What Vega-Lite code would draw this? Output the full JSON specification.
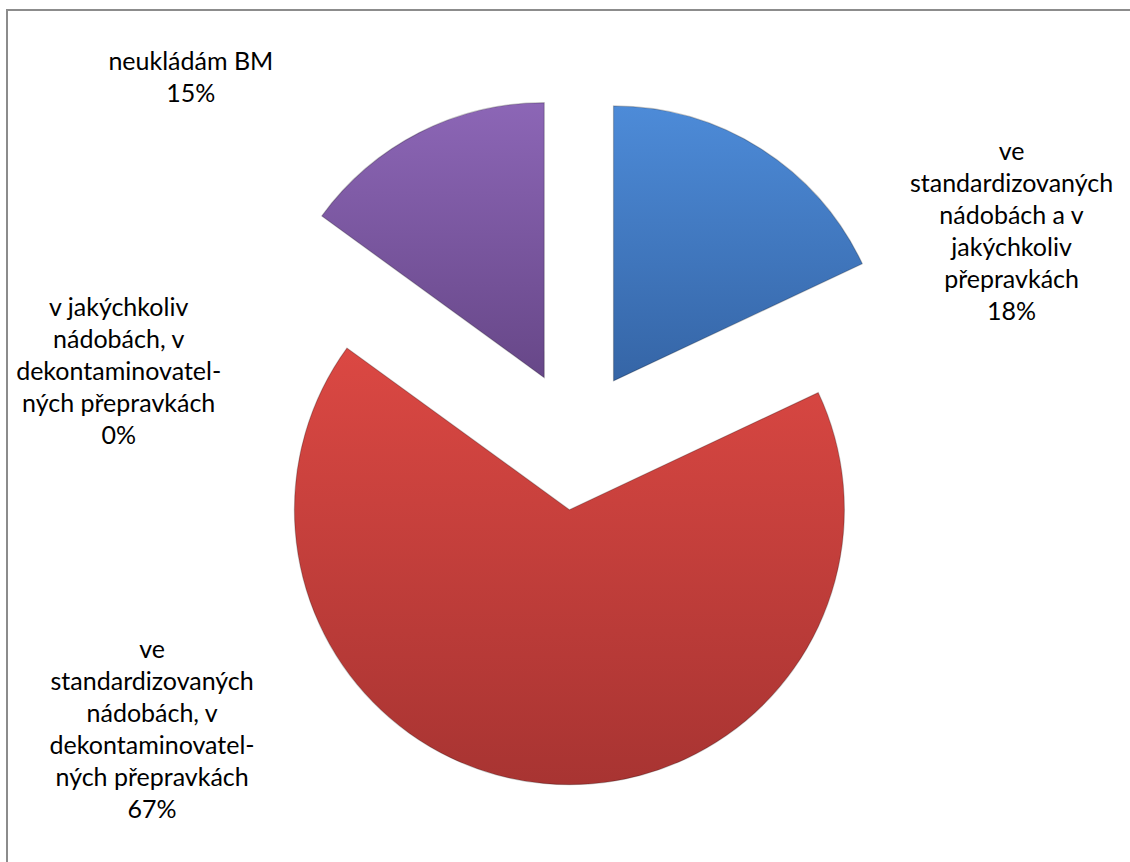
{
  "$schema": "https://vega.github.io/schema/vega-lite/v6.json",
  "width": 1138,
  "height": 860,
  "autosize": {"type": "none"},
  "padding": {"left": 7, "top": 10, "right": -15, "bottom": -8},
  "background": "white",
  "view": {"stroke": "#8c8c8c", "strokeWidth": 2, "fill": "white"},
  "data": {
    "values": [
      {"poradi": 1, "kategorie": "ve standardizovaných nádobách a v jakýchkoliv přepravkách", "podil": 18, "popisek": "ve\nstandardizovaných\nnádobách a v\njakýchkoliv\npřepravkách\n18%"},
      {"poradi": 2, "kategorie": "ve standardizovaných nádobách, v dekontaminovatel-ných přepravkách", "podil": 67, "popisek": "ve\nstandardizovaných\nnádobách, v\ndekontaminovatel-\nných přepravkách\n67%"},
      {"poradi": 3, "kategorie": "v jakýchkoliv nádobách, v dekontaminovatel-ných přepravkách", "podil": 0, "popisek": "v jakýchkoliv\nnádobách, v\ndekontaminovatel-\nných přepravkách\n0%"},
      {"poradi": 4, "kategorie": "neukládám BM", "podil": 15, "popisek": "neukládám BM\n15%"}
    ]
  },
  "encoding": {
    "theta": {"field": "podil", "type": "quantitative", "stack": true},
    "order": {"field": "poradi", "type": "quantitative"},
    "detail": {"field": "kategorie", "type": "nominal"}
  },
  "layer": [
    {
      "mark": {
        "type": "arc",
        "outerRadius": 275,
        "strokeWidth": 1.2,
        "x": {"expr": "width / 2 + 70 * sin(PI * (datum.podil_start + datum.podil_end) / 100)"},
        "y": {"expr": "height / 2 - 70 * cos(PI * (datum.podil_start + datum.podil_end) / 100)"}
      },
      "encoding": {
        "fill": {
          "condition": [
            {"test": "datum.poradi == 1", "value": {"gradient": "linear", "x1": 0, "y1": 0, "x2": 0, "y2": 1, "stops": [{"offset": 0, "color": "#4d8bd8"}, {"offset": 1, "color": "#3565a6"}]}},
            {"test": "datum.poradi == 2", "value": {"gradient": "linear", "x1": 0, "y1": 0, "x2": 0, "y2": 1, "stops": [{"offset": 0, "color": "#db4843"}, {"offset": 1, "color": "#a83432"}]}},
            {"test": "datum.poradi == 3", "value": "#9bbb59"}
          ],
          "value": {"gradient": "linear", "x1": 0, "y1": 0, "x2": 0, "y2": 1, "stops": [{"offset": 0, "color": "#8c66b6"}, {"offset": 1, "color": "#674788"}]}
        },
        "stroke": {"value": "#000000"},
        "strokeOpacity": {"condition": {"test": "datum.poradi == 3", "value": 0}, "value": 0.22}
      }
    },
    {
      "mark": {
        "type": "text",
        "font": "Lato",
        "fontSize": 25,
        "lineHeight": 32,
        "lineBreak": "\n",
        "align": "center",
        "baseline": "middle",
        "color": "#000000",
        "thetaOffset": {"expr": "datum.poradi == 1 ? 0.4215 : datum.poradi == 2 ? 1.0167 : datum.poradi == 3 ? -0.3473 : -0.3229"},
        "radius": {"expr": "datum.poradi == 1 ? 522 : datum.poradi == 2 ? 473 : datum.poradi == 3 ? 476 : 540"}
      },
      "encoding": {
        "text": {"field": "popisek", "type": "nominal"}
      }
    }
  ]
}
